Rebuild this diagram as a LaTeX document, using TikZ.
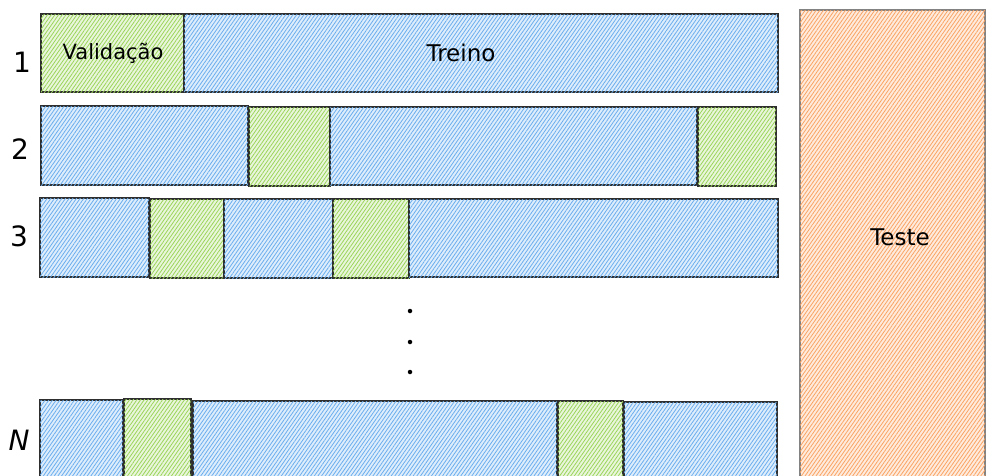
\documentclass[tikz,border=0pt]{standalone}
\usepackage{fontspec}
\setmainfont{DejaVu Sans}
\usetikzlibrary{patterns.meta}
\definecolor{edge}{HTML}{2E2E2E}
\definecolor{bluehatch}{HTML}{6AAEEE}
\definecolor{greenhatch}{HTML}{9BD45A}
\definecolor{orangehatch}{HTML}{FAA463}
\tikzset{
  x=1pt, y=-1pt,
  blk/.style={draw=edge, line width=1.3pt, anchor=north west, inner sep=0pt, outer sep=0pt},
  trainbox/.style={blk, fill=bluehatch!22, postaction={pattern={Lines[angle=55,distance=3pt,line width=0.8pt]}, pattern color=bluehatch}},
  valbox/.style={blk, fill=greenhatch!22, postaction={pattern={Lines[angle=55,distance=3pt,line width=0.8pt]}, pattern color=greenhatch}},
  testbox/.style={blk, draw=edge!60, fill=orangehatch!22, postaction={pattern={Lines[angle=55,distance=3pt,line width=0.8pt]}, pattern color=orangehatch}},
  lbl/.style={font=\fontsize{21}{25}\selectfont, text=black},
  widelbl/.style={lbl, font=\fontsize{23}{27}\selectfont},
  rowlbl/.style={font=\fontsize{28}{32}\selectfont, text=black},
  dotmark/.style={circle, fill=black, inner sep=0pt, minimum size=4.5pt}
}
\newcommand{\bx}[6]{\node[#1, minimum width=#4-#3, minimum height=#6-#5] (#2) at (#3,#5) {};}
\begin{document}
\begin{tikzpicture}
\useasboundingbox (0,0) rectangle (986,475);
\clip (0,0) rectangle (986,475);
\fill[white] (0,0) rectangle (986,475);
% Test
\bx{testbox}{test}{800}{985}{10}{490}
% Row 1
\bx{valbox}{r1v}{41}{184}{14}{92}
\bx{trainbox}{r1t}{184}{778}{14}{92}
% Row 2
\bx{trainbox}{r2a}{41}{248}{106}{185}
\bx{valbox}{r2b}{249}{330}{107}{186}
\bx{trainbox}{r2c}{330}{697}{107}{185}
\bx{valbox}{r2d}{698}{776}{107}{186}
% Row 3
\bx{trainbox}{r3a}{40}{149}{198}{277}
\bx{valbox}{r3b}{150}{224}{199}{278}
\bx{trainbox}{r3c}{224}{333}{199}{278}
\bx{valbox}{r3d}{333}{409}{199}{278}
\bx{trainbox}{r3e}{409}{778}{199}{277}
% Row N
\bx{trainbox}{rna}{40}{123}{400}{490}
\bx{valbox}{rnb}{124}{191}{399}{490}
\bx{trainbox}{rnc}{193}{557}{401}{490}
\bx{valbox}{rnd}{558}{623}{401}{490}
\bx{trainbox}{rne}{624}{777}{402}{490}
% Labels
\node[lbl] (tval) at (113,53) {Validação};
\node[widelbl] (ttr) at (461,53) {Treino};
\node[widelbl] (tte) at (900,237) {Teste};
\node[rowlbl] (n1) at (22,62) {1};
\node[rowlbl] (n2) at (20,149) {2};
\node[rowlbl] (n3) at (19,236) {3};
\node[rowlbl] (nN) at (19,440) {\itshape N};
% Dots
\node[dotmark] (d1) at (410,311) {};
\node[dotmark] (d2) at (410,342) {};
\node[dotmark] (d3) at (410,372) {};
\end{tikzpicture}
\end{document}
